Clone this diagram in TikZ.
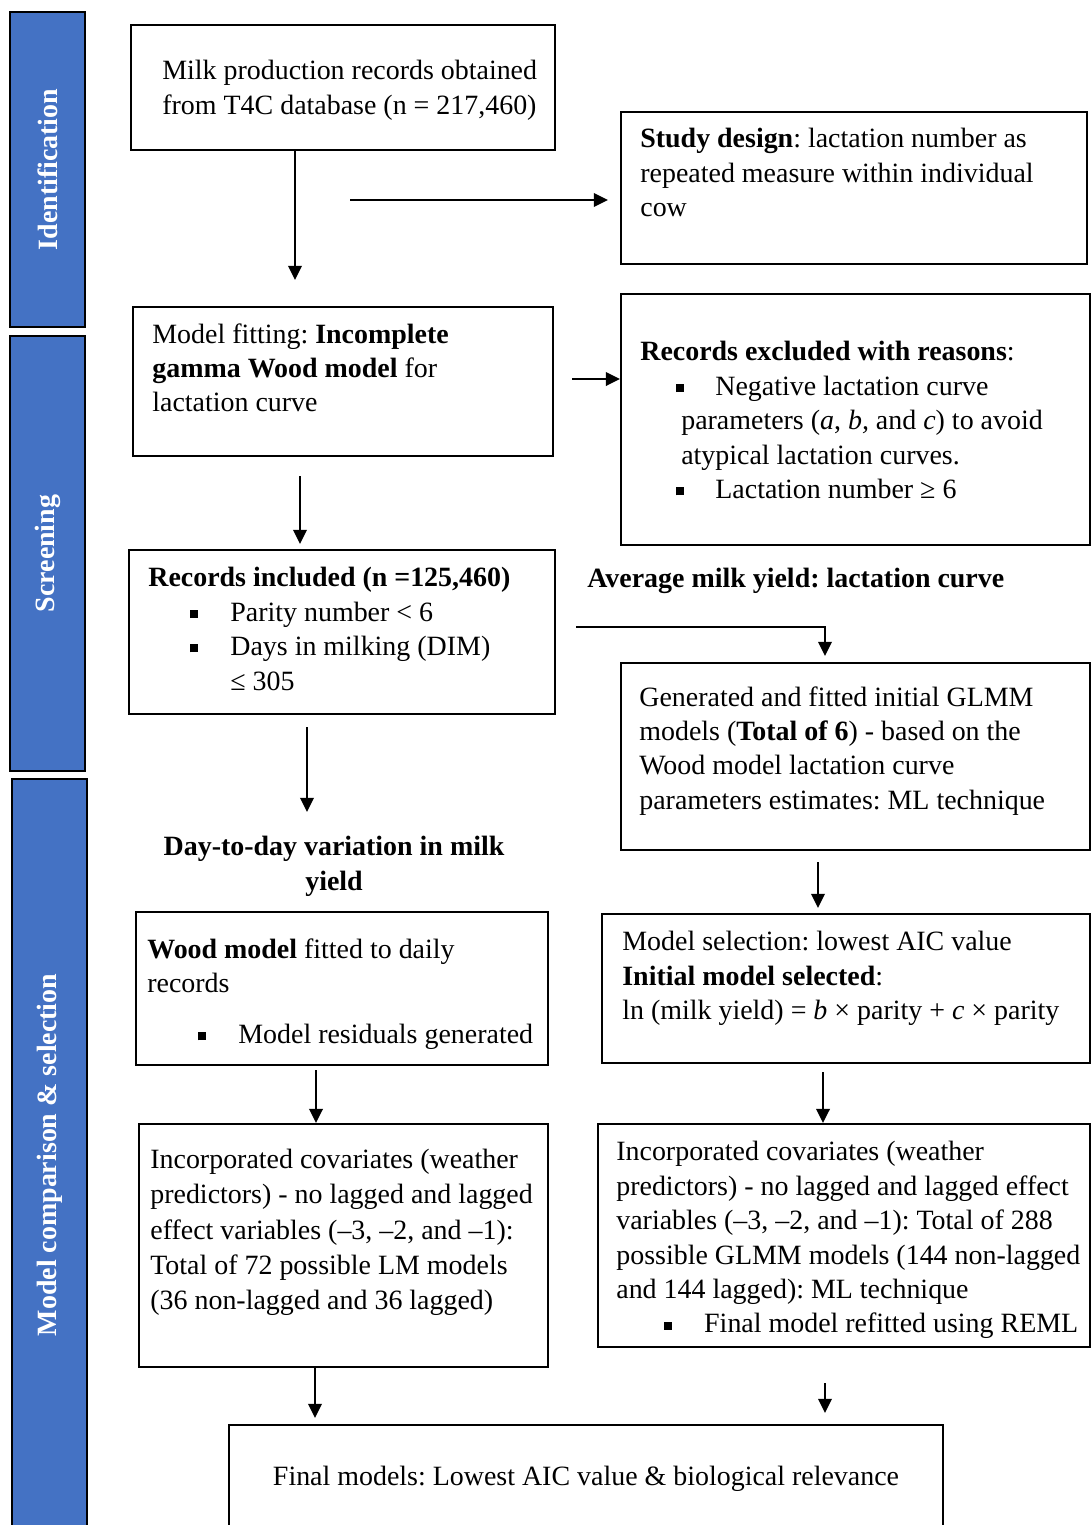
\documentclass[tikz,border=0pt]{standalone}
\usepackage{fontspec}
\setmainfont{Liberation Serif}
\usetikzlibrary{arrows.meta,fit}
\definecolor{barblue}{RGB}{68,114,196}
\newcommand{\bitem}[2]{\makebox[#2][l]{\hspace*{#1}\rule[1.8pt]{4.6pt}{4.6pt}}}
\frenchspacing

\begin{document}
\begin{tikzpicture}[x=0.02cm, y=-0.02cm,
    frame/.style={draw, line width=1.1pt, inner sep=0pt},
    txt/.style={anchor=north west, inner sep=0pt, align=left, font=\fontsize{15.9}{19.6}\selectfont},
    bar/.style={draw, line width=1.4pt, fill=barblue, inner sep=0pt},
    bartxt/.style={rotate=90, text=white, font=\fontsize{15.9}{19.6}\selectfont\bfseries},
    arr/.style={line width=1.6pt, -{Triangle[length=8pt,width=7.5pt]}}]
    \useasboundingbox (0,0) rectangle (1091,1525);
    % Side bars
    \node[bar, fit={(10,12) (85,327)}]    (ident)  {};
    \node[bar, fit={(10,336) (85,771)}]   (screen) {};
    \node[bar, fit={(12,779) (87,1531)}]  (select) {};
    \node[bartxt] (ident-t)  at (ident.center)  {Identification};
    \node[bartxt] (screen-t) at (screen.center) {Screening};
    \node[bartxt] (select-t) at (select.center) {Model comparison \& selection};
    % Identification
    \node[frame, fit={(131,25) (555,150)}]   (milk)   {};
    \node[txt] (milk-t) at (162,60) {Milk production records obtained\\from T4C database (n = 217,460)};
    \node[frame, fit={(621,112) (1087,264)}] (design) {};
    \node[txt] (design-t) at (640,128) {\textbf{Study design}: lactation number as\\repeated measure within individual\\cow};
    % Screening
    \node[frame, fit={(133,307) (553,456)}]  (wood)   {};
    \node[txt] (wood-t) at (152,323) {Model fitting: \textbf{Incomplete}\\\textbf{gamma Wood model} for\\lactation curve};
    \node[frame, fit={(621,294) (1090,545)}] (excl)   {};
    \node[txt] (excl-t) at (640,341) {\textbf{Records excluded with reasons}:\\
        \bitem{20.5pt}{42.7pt}Negative lactation curve\\
        \hspace*{23.3pt}parameters (\textit{a}, \textit{b,} and \textit{c}) to avoid\\
        \hspace*{23.3pt}atypical lactation curves.\\
        \bitem{20.5pt}{42.7pt}Lactation number ≥ 6};
    \node[frame, fit={(129,550) (555,714)}]  (incl)   {};
    \node[txt] (incl-t) at (148,567) {\textbf{Records included (n =125,460)}\\
        \bitem{23.9pt}{46.7pt}Parity number < 6\\
        \bitem{23.9pt}{46.7pt}Days in milking (DIM)\\
        \hspace*{46.7pt}≤ 305};
    % Model comparison & selection
    \node[txt, font=\fontsize{15.9}{19.6}\selectfont\bfseries] (avg) at (587,568) {Average milk yield: lactation curve};
    \node[frame, fit={(621,663) (1090,850)}] (glmm)   {};
    \node[txt] (glmm-t) at (639,686) {Generated and fitted initial GLMM\\models (\textbf{Total of 6}) - based on the\\Wood model lactation curve\\parameters estimates: ML technique};
    \node[txt, anchor=north, align=center, font=\fontsize{15.9}{19.6}\selectfont\bfseries] (daily) at (334,836) {Day-to-day variation in milk\\yield};
    \node[frame, fit={(136,912) (548,1065)}] (fitted) {};
    \node[txt] (fitted-t) at (147,938) {\textbf{Wood model} fitted to daily\\records\\[9.4pt]
        \bitem{29pt}{51.8pt}Model residuals generated};
    \node[frame, fit={(602,914) (1090,1063)}] (aic)   {};
    \node[txt] (aic-t) at (622,931) {Model selection: lowest AIC value\\\textbf{Initial model selected}:\\ln (milk yield) = \textit{b} × parity + \textit{c} × parity};
    \node[frame, fit={(139,1124) (548,1367)}] (lm)    {};
    \node[txt, font=\fontsize{15.9}{20}\selectfont] (lm-t) at (150,1149) {Incorporated covariates (weather\\predictors) - no lagged and lagged\\effect variables (–3, –2, and –1):\\Total of 72 possible LM models\\(36 non-lagged and 36 lagged)};
    \node[frame, fit={(598,1124) (1090,1347)}] (cov)  {};
    \node[txt] (cov-t) at (616,1141) {Incorporated covariates (weather\\predictors) - no lagged and lagged effect\\variables (–3, –2, and –1): Total of 288\\possible GLMM models (144 non-lagged\\and 144 lagged): ML technique\\
        \bitem{27.3pt}{50pt}Final model refitted using REML};
    \node[frame, fit={(229,1425) (943,1531)}] (final) {};
    \node[font=\fontsize{15.9}{19.6}\selectfont, inner sep=0pt] (final-t) at (586,1479) {Final models: Lowest AIC value \& biological relevance};
    % Arrows
    \coordinate (a1) at (295,280);
    \coordinate (a2) at (350,200);
    \coordinate (a3) at (608,200);
    \coordinate (a4) at (572,379);
    \coordinate (a5) at (300,476);
    \coordinate (a6) at (300,544);
    \coordinate (a7) at (576,627);
    \coordinate (a8) at (825,656);
    \coordinate (a9) at (307,727);
    \coordinate (a10) at (307,812);
    \coordinate (a11) at (818,862);
    \coordinate (a12) at (818,908);
    \coordinate (a13) at (316,1070);
    \coordinate (a14) at (823,1072);
    \coordinate (a15) at (315,1418);
    \coordinate (a16) at (825,1383);
    \coordinate (a17) at (825,1413);
    \draw[arr] (milk.south -| a1) -- (a1);
    \draw[arr] (a2) -- (a3);
    \draw[arr] (a4) -- (a4 -| excl.west);
    \draw[arr] (a5) -- (a6);
    \draw[arr] (a7) -| (a8);
    \draw[arr] (a9) -- (a10);
    \draw[arr] (a11) -- (a12);
    \draw[arr] (a13) -- (a13 |- lm.north);
    \draw[arr] (a14) -- (a14 |- cov.north);
    \draw[arr] (lm.south -| a15) -- (a15);
    \draw[arr] (a16) -- (a17);
\end{tikzpicture}
\end{document}
